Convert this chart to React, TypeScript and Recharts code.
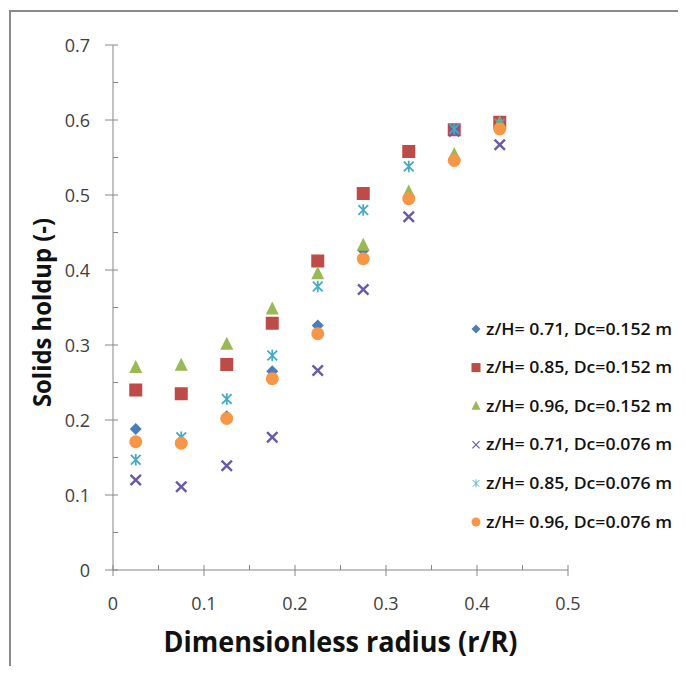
import { ScatterChart, Scatter, XAxis, YAxis, Label } from "recharts"

const radius = [0.025, 0.075, 0.125, 0.175, 0.225, 0.275, 0.325, 0.375, 0.425]

const zh071Dc152 = [0.188, 0.172, 0.205, 0.265, 0.326, 0.426, 0.497, 0.588, 0.595]
const zh085Dc152 = [0.24, 0.235, 0.274, 0.329, 0.412, 0.502, 0.558, 0.587, 0.597]
const zh096Dc152 = [0.27, 0.273, 0.301, 0.348, 0.395, 0.433, 0.504, 0.554, 0.596]
const zh071Dc076 = [0.12, 0.111, 0.139, 0.177, 0.266, 0.374, 0.471, 0.585, 0.567]
const zh085Dc076 = [0.147, 0.177, 0.228, 0.286, 0.378, 0.48, 0.538, 0.588, 0.595]
const zh096Dc076 = [0.171, 0.169, 0.202, 0.255, 0.315, 0.415, 0.495, 0.546, 0.588]

const xTicks = [0, 0.05, 0.1, 0.15, 0.2, 0.25, 0.3, 0.35, 0.4, 0.45, 0.5]
const xLabels = ["0", "", "0.1", "", "0.2", "", "0.3", "", "0.4", "", "0.5"]
const yTicks = [0, 0.05, 0.1, 0.15, 0.2, 0.25, 0.3, 0.35, 0.4, 0.45, 0.5, 0.55, 0.6, 0.65, 0.7]
const yLabels = ["0", "", "0.1", "", "0.2", "", "0.3", "", "0.4", "", "0.5", "", "0.6", "", "0.7"]

type Kind = "diamond" | "square" | "triangle" | "x" | "star" | "circle"

const series: { name: string; values: number[]; color: string; kind: Kind }[] = [
  { name: "z/H= 0.71, Dc=0.152 m", values: zh071Dc152, color: "#4a7ebb", kind: "diamond" },
  { name: "z/H= 0.85, Dc=0.152 m", values: zh085Dc152, color: "#be4b48", kind: "square" },
  { name: "z/H= 0.96, Dc=0.152 m", values: zh096Dc152, color: "#98b954", kind: "triangle" },
  { name: "z/H= 0.71, Dc=0.076 m", values: zh071Dc076, color: "#6a5aa6", kind: "x" },
  { name: "z/H= 0.85, Dc=0.076 m", values: zh085Dc076, color: "#46aac5", kind: "star" },
  { name: "z/H= 0.96, Dc=0.076 m", values: zh096Dc076, color: "#f79646", kind: "circle" },
]

const axisColor = "#868686"
const font = "'Open Sans', 'Noto Sans', sans-serif"

function Marker({ cx, cy, kind, color, s }: { cx: number; cy: number; kind: Kind; color: string; s: number }) {
  if (cx == null || cy == null) return null
  switch (kind) {
    case "diamond":
      return <path d={`M${cx},${cy - s} L${cx + s},${cy} L${cx},${cy + s} L${cx - s},${cy} Z`} fill={color} />
    case "square":
      return <rect x={cx - s} y={cy - s} width={2 * s} height={2 * s} fill={color} />
    case "triangle":
      return <path d={`M${cx},${cy - s - 1} L${cx + s},${cy + s - 1} L${cx - s},${cy + s - 1} Z`} fill={color} />
    case "x":
      return (
        <path
          d={`M${cx - s * 0.8},${cy - s * 0.8} L${cx + s * 0.8},${cy + s * 0.8} M${cx + s * 0.8},${cy - s * 0.8} L${cx - s * 0.8},${cy + s * 0.8}`}
          stroke={color}
          strokeWidth={s > 5 ? 2.4 : 1.2}
          fill="none"
        />
      )
    case "star":
      return (
        <path
          d={`M${cx - s * 0.75},${cy - s * 0.75} L${cx + s * 0.75},${cy + s * 0.75} M${cx + s * 0.75},${cy - s * 0.75} L${cx - s * 0.75},${cy + s * 0.75} M${cx},${cy - s * 0.9} L${cx},${cy + s * 0.9}`}
          stroke={color}
          strokeWidth={s > 5 ? 1.8 : 0.9}
          fill="none"
        />
      )
    default:
      return <circle cx={cx} cy={cy} r={s} fill={color} />
  }
}

const XTick = (props: any) => {
  const { x, y, index } = props
  const major = index % 2 === 0
  return (
    <g>
      <line x1={x} x2={x} y1={y - 5} y2={major ? y + 6 : y} stroke={axisColor} />
      {major && (
        <text x={x} y={y + 40} textAnchor="middle" fontSize={18} fontFamily={font} fill="#404040">
          {xLabels[index]}
        </text>
      )}
    </g>
  )
}

const YTick = (props: any) => {
  const { x, y, index } = props
  const major = index % 2 === 0
  return (
    <g>
      <line x1={major ? x - 8 : x} x2={x + 5} y1={y} y2={y} stroke={axisColor} />
      {major && (
        <text x={x - 23} y={y + 6.5} textAnchor="end" fontSize={18} fontFamily={font} fill="#404040">
          {yLabels[index]}
        </text>
      )}
    </g>
  )
}

const LegendBox = () => (
  <svg width={220} height={240} style={{ position: "absolute", left: 464, top: 310 }}>
    {series.map((s, i) => {
      const cy = 19 + i * 38.6
      return (
        <g key={s.name}>
          <Marker cx={12} cy={cy} kind={s.kind} color={s.color} s={4.5} />
          <text
            x={22}
            y={cy + 5.5}
            fontFamily={font}
            fontSize={16}
            fontWeight={600}
            fill="#111"
            textLength={186}
            lengthAdjust="spacingAndGlyphs"
          >
            {s.name}
          </text>
        </g>
      )
    })}
  </svg>
)

export default function App() {
  return (
    <div style={{ position: "relative", width: 686, height: 674, margin: -8, background: "#fff", overflow: "hidden" }}>
      <div
        style={{
          position: "absolute",
          left: 9,
          top: 10,
          width: 677,
          height: 664,
          boxSizing: "border-box",
          borderLeft: "2px solid #8a8a8a",
          borderTop: "2px solid #8a8a8a",
        }}
      />
      <div style={{ position: "absolute", left: 0, top: 0 }}>
        <ScatterChart width={686} height={674} margin={{ top: 45, right: 118, bottom: 54, left: 53 }}>
          <XAxis
            type="number"
            dataKey="x"
            domain={[0, 0.5]}
            ticks={xTicks}
            interval={0}
            tick={<XTick />}
            tickLine={false}
            tickSize={0}
            tickMargin={0}
            height={50}
            axisLine={{ stroke: axisColor }}
            allowDataOverflow
          >
            <Label
              content={(p: any) => {
                const vb = p.viewBox
                return (
                  <text
                    x={vb.x + vb.width / 2}
                    y={vb.y + 82}
                    textAnchor="middle"
                    fontSize={28}
                    fontWeight={700}
                    fontFamily={font}
                    fill="#111"
                    textLength={354}
                    lengthAdjust="spacingAndGlyphs"
                  >
                    Dimensionless radius (r/R)
                  </text>
                )
              }}
            />
          </XAxis>
          <YAxis
            type="number"
            dataKey="y"
            domain={[0, 0.7]}
            ticks={yTicks}
            interval={0}
            tick={<YTick />}
            tickLine={false}
            tickSize={0}
            tickMargin={0}
            width={60}
            axisLine={{ stroke: axisColor }}
            allowDataOverflow
          >
            <Label
              content={(p: any) => {
                const vb = p.viewBox
                const cx = vb.x - 2
                const cy = vb.y + vb.height / 2 + 5
                return (
                  <text
                    x={cx}
                    y={cy}
                    transform={`rotate(-90 ${cx} ${cy})`}
                    textAnchor="middle"
                    fontSize={25}
                    fontWeight={700}
                    fontFamily={font}
                    fill="#111"
                    textLength={189}
                    lengthAdjust="spacingAndGlyphs"
                  >
                    Solids holdup (-)
                  </text>
                )
              }}
            />
          </YAxis>
          {series.map((s) => (
            <Scatter
              key={s.name}
              name={s.name}
              data={radius.map((r, i) => ({ x: r, y: s.values[i] }))}
              fill={s.color}
              isAnimationActive={false}
              shape={(p: any) => <Marker cx={p.cx} cy={p.cy} kind={s.kind} color={s.color} s={s.kind === "diamond" ? 6 : 6.5} />}
            />
          ))}
        </ScatterChart>
      </div>
      <LegendBox />
    </div>
  )
}
